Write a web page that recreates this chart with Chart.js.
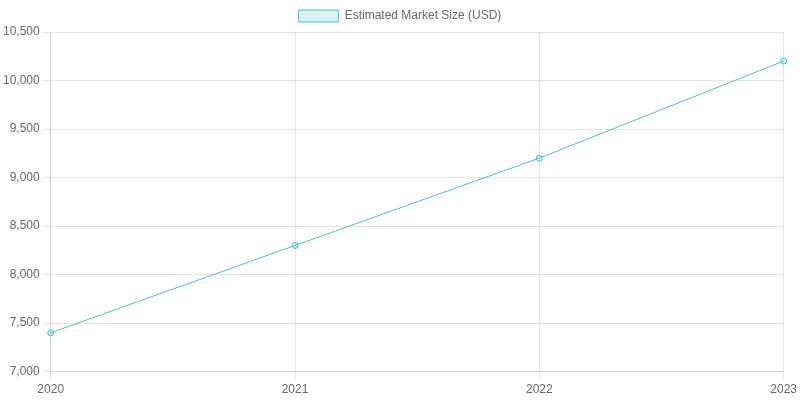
<!DOCTYPE html>
<html>
<head>
<meta charset="utf-8">
<script src="https://cdn.jsdelivr.net/npm/chart.js@4"></script>
<style>
    html, body { margin: 0; padding: 0; background: #fff; }
    #wrap { width: 800px; height: 400px; }
</style>
</head>
<body>
<div id="wrap"><canvas id="chart"></canvas></div>
<script>
const years = ['2020', '2021', '2022', '2023'];
const marketSize = [7400, 8300, 9200, 10200];

const seriesLabel = 'Estimated Market Size (USD)';

new Chart(document.getElementById('chart'), {
    type: 'line',
    data: {
        labels: years,
        datasets: [
            {
                label: seriesLabel,
                data: marketSize,
                borderColor: 'rgb(75,192,192)',
                backgroundColor: 'rgba(75,192,192,0.2)',
                borderWidth: 1,
                pointRadius: 3,
                tension: 0
            }
        ]
    },
    options: {
        responsive: true,
        maintainAspectRatio: false,
        animation: false,
        scales: {
            x: {
                grid: { display: true }
            },
            y: {
                min: 7000,
                max: 10500,
                ticks: { stepSize: 500 }
            }
        }
    }
});
</script>
</body>
</html>
